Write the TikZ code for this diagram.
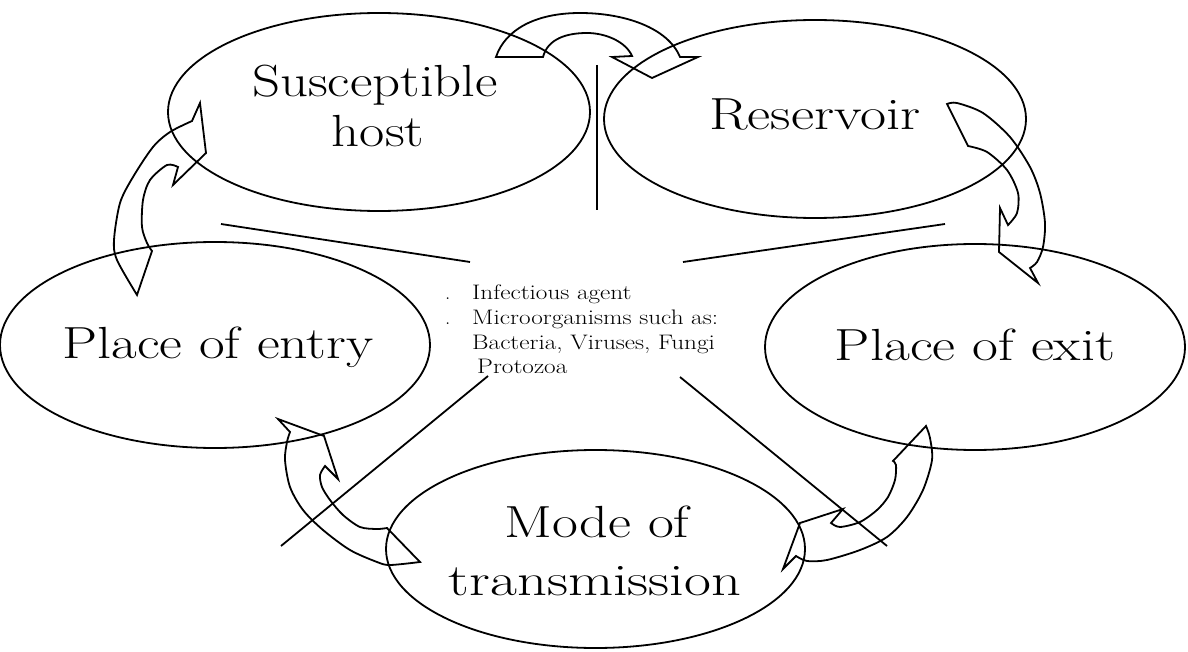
\documentclass[tikz,border=0pt]{standalone}
\usepackage{fontspec}
\usepackage{graphicx}
\usetikzlibrary{shapes.geometric}
\begin{document}
\begin{tikzpicture}[x=1pt,y=-1pt,
  ell/.style={draw, ellipse, line width=1.8pt, inner sep=0pt},
  lbl/.style={anchor=base, inner sep=0pt, font=\fontsize{45}{54}\selectfont},
  sml/.style={anchor=base west, inner sep=0pt, font=\fontsize{21}{25}\selectfont},
  blk/.style={line width=1.8pt, line join=miter},
  ray/.style={line width=1.8pt}]
\useasboundingbox (0,0) rectangle (1188,652);
% ellipses
\node[ell, minimum width=422pt, minimum height=198pt] (sh) at (379,112) {};
\node[ell, minimum width=422pt, minimum height=198pt] (res) at (815,119) {};
\node[ell, minimum width=430pt, minimum height=206pt] (entry) at (215,345) {};
\node[ell, minimum width=420pt, minimum height=206pt] (exit) at (975,347) {};
\node[ell, minimum width=419pt, minimum height=198pt] (mode) at (595.5,549) {};
% labels
\node[lbl] (tsh1) at (375,97) {\scalebox{1.22}[1]{Susceptible}};
\node[lbl] (tsh2) at (378,147) {\scalebox{1.22}[1]{host}};
\node[lbl] (tres) at (815,130) {\scalebox{1.26}[1]{Reservoir}};
\node[lbl] (tentry) at (218,358) {\scalebox{1.24}[1]{Place of entry}};
\node[lbl] (texit) at (975,360) {\scalebox{1.25}[1]{Place of exit}};
\node[lbl] (tmode1) at (597,537) {\scalebox{1.25}[1]{Mode of}};
\node[lbl] (tmode2) at (595,595) {\scalebox{1.3}[1]{transmission}};
% centre text
\node[sml] (b1) at (445,299) {.};
\node[sml] (b2) at (445,324) {.};
\node[sml] (c1) at (472,299) {\scalebox{1.2}[1]{Infectious agent}};
\node[sml] (c2) at (472,324) {\scalebox{1.2}[1]{Microorganisms such as:}};
\node[sml] (c3) at (472,349) {\scalebox{1.2}[1]{Bacteria, Viruses, Fungi}};
\node[sml] (c4) at (477,373) {\scalebox{1.2}[1]{Protozoa}};
% rays
\coordinate (v1) at (597,65);  \coordinate (v2) at (597,210);
\coordinate (ul1) at (221,224); \coordinate (ul2) at (470,262);
\coordinate (ur1) at (683,262); \coordinate (ur2) at (945,224);
\coordinate (ll1) at (488,376); \coordinate (ll2) at (281,546);
\coordinate (lr1) at (680,377); \coordinate (lr2) at (887,546);
\draw[ray] (v1) -- (v2);
\draw[ray] (ul1) -- (ul2);
\draw[ray] (ur1) -- (ur2);
\draw[ray] (ll1) -- (ll2);
\draw[ray] (lr1) -- (lr2);
% block arrow: susceptible host -> reservoir
\draw[blk] (496,57) -- (543,57) .. controls (548,38) and (568,33) .. (587,33)
  .. controls (606,33) and (626,42) .. (632,56) -- (612,57) -- (652,78) -- (698,57) -- (680,57)
  .. controls (668,28) and (625,13) .. (580,13) .. controls (535,13) and (505,30) .. (496,57) -- cycle;
% reservoir -> place of exit
\draw[blk] (947,104) -- plot[smooth] coordinates {(968,146) (987,152) (1007,170) (1018,193) (1017,213) (1008,225)}
  -- (1000,208) -- (999,252) -- (1038,283) -- (1030,268)
  -- plot[smooth] coordinates {(1030,268) (1037,262) (1043,247) (1045,223) (1040,193) (1030,167) (1010,137) (983,113) (957,103) (947,104)} -- cycle;
% place of exit -> mode of transmission
\draw[blk] (926,426) -- plot[smooth] coordinates {(893,461) (896,465) (895,480) (888,497) (877,510) (860,522) (840,527) (831,523)}
  -- (843,509) -- (800,523) -- (783,569) -- (796,556)
  -- plot[smooth] coordinates {(796,556) (807,561) (827,560) (860,550) (887,537) (907,517) (923,490) (932,460) (930,438) (926,426)} -- cycle;
% mode of transmission -> place of entry
\draw[blk] (387,528) -- plot[smooth] coordinates {(420,562) (390,565) (377,562) (350,550) (323,530) (303,510) (290,487) (285,460) (287,442) (290,432)}
  -- (278,419) -- (324,436) -- (338,479) -- (325,466)
  -- plot[smooth] coordinates {(325,466) (320,475) (322,487) (330,500) (343,515) (360,527) (377,529) (387,528)} -- cycle;
% place of entry -> susceptible host
\draw[blk] (137,295) -- plot[smooth] coordinates {(152,251) (147,243) (142,227) (143,200) (150,180) (167,165) (178,167)}
  -- (173,185) -- (206,153) -- (200,103) -- (192,121)
  -- plot[smooth] coordinates {(192,121) (170,132) (153,147) (133,177) (120,203) (114,240) (117,260) (137,295)} -- cycle;
\end{tikzpicture}
\end{document}
